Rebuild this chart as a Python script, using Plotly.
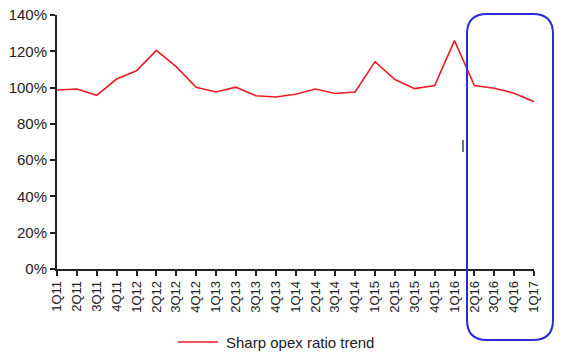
import plotly.graph_objects as go

quarters = ["1Q11","2Q11","3Q11","4Q11","1Q12","2Q12","3Q12","4Q12",
            "1Q13","2Q13","3Q13","4Q13","1Q14","2Q14","3Q14","4Q14",
            "1Q15","2Q15","3Q15","4Q15","1Q16","2Q16","3Q16","4Q16","1Q17"]
opex_ratio = [0.987,0.992,0.957,1.047,1.093,1.205,1.115,1.002,
              0.976,1.002,0.955,0.948,0.963,0.992,0.967,0.976,
              1.143,1.044,0.994,1.011,1.259,1.011,0.996,0.969,0.922]
y_ticks = [0,0.2,0.4,0.6,0.8,1.0,1.2,1.4]
series_name = "Sharp opex ratio trend"
line_color = "#ec1c24"

W, H = 572, 352
L, R, T, B = 57, 38, 15, 83
pw, ph = W - L - R, H - T - B

def px(x): return (x - L) / pw
def py(y): return (H - B - y) / ph

fig = go.Figure()
fig.add_trace(go.Scatter(x=list(range(len(quarters))), y=opex_ratio, mode="lines",
                         name=series_name, showlegend=False,
                         line=dict(color=line_color, width=1.6)))

# rounded highlight box
x0, x1, y0, y1, r = 467, 553, 14, 340, 20
rx, ry = r / pw, r / ph
X0, X1, Y0, Y1 = px(x0), px(x1), py(y1), py(y0)
path = (f"M {X0+rx},{Y1} L {X1-rx},{Y1} Q {X1},{Y1} {X1},{Y1-ry} "
        f"L {X1},{Y0+ry} Q {X1},{Y0} {X1-rx},{Y0} L {X0+rx},{Y0} "
        f"Q {X0},{Y0} {X0},{Y0+ry} L {X0},{Y1-ry} Q {X0},{Y1} {X0+rx},{Y1} Z")
fig.add_shape(type="path", path=path, xref="paper", yref="paper",
              line=dict(color="#2a2ad6", width=2))
fig.add_shape(type="line", xref="paper", yref="paper",
              x0=px(463), x1=px(463), y0=py(140), y1=py(152),
              line=dict(color="#34466a", width=1.5))

# manual legend
fig.add_shape(type="line", xref="paper", yref="paper",
              x0=px(178), x1=px(218), y0=py(342), y1=py(342),
              line=dict(color=line_color, width=1.6))
fig.add_annotation(xref="paper", yref="paper", x=px(224), y=py(342),
                   xanchor="left", yanchor="middle", showarrow=False,
                   text=series_name, font=dict(size=15, color="#222"))

fig.update_layout(
    width=W, height=H, margin=dict(l=L, r=R, t=T, b=B),
    paper_bgcolor="white", plot_bgcolor="white",
    font=dict(family="Liberation Sans, Arial, sans-serif", size=13, color="#222"),
    showlegend=False,
    xaxis=dict(tickmode="array", tickvals=list(range(len(quarters))), ticktext=quarters,
               range=[0, len(quarters) - 1], tickangle=-90, showgrid=False,
               showline=True, linecolor="#222", linewidth=1.5,
               ticks="outside", ticklen=5, tickcolor="#222", tickwidth=1.5,
               zeroline=False, tickfont=dict(size=13), automargin=False),
    yaxis=dict(range=[0, 1.4], tickvals=y_ticks, tickformat=".0%", showgrid=False,
               showline=True, linecolor="#222", linewidth=2,
               ticks="outside", ticklen=5, tickcolor="#222", tickwidth=1.5,
               zeroline=False, tickfont=dict(size=15), automargin=False),
)
fig.write_html("out.html")
